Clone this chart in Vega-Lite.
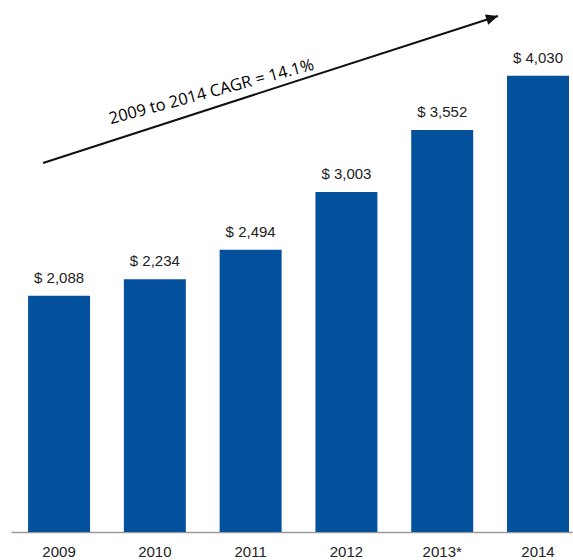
{
  "$schema": "https://vega.github.io/schema/vega-lite/v6.json",
  "width": 562,
  "height": 532,
  "autosize": "none",
  "padding": {"left": 11, "top": 0, "right": 0, "bottom": 28},
  "background": "white",
  "config": {"view": {"stroke": null}},
  "datasets": {
    "revenue": [
      {"year": "2009", "value": 2088},
      {"year": "2010", "value": 2234},
      {"year": "2011", "value": 2494},
      {"year": "2012", "value": 3003},
      {"year": "2013*", "value": 3552},
      {"year": "2014", "value": 4030}
    ],
    "arrow": [
      {"from": "2009", "to": "2014", "y_start": 3260, "y_end": 4559}
    ],
    "note": [
      {"year": "2011", "y": 3887, "text": "2009 to 2014 CAGR = 14.1%"}
    ]
  },
  "layer": [
    {
      "data": {"name": "revenue"},
      "mark": {"type": "bar", "color": "#03519c"},
      "encoding": {
        "x": {
          "field": "year",
          "type": "ordinal",
          "sort": null,
          "scale": {
            "domain": ["2009", "2010", "2011", "2012", "2013*", "2014"],
            "paddingInner": 0.353,
            "paddingOuter": 0.11,
            "align": 0.81
          },
          "axis": {
            "title": null,
            "labelAngle": 0,
            "ticks": false,
            "tickSize": 0,
            "labelPadding": 12,
            "labelFontSize": 15,
            "labelFont": "Liberation Sans",
            "labelColor": "#222222",
            "domainColor": "#9a9a9a",
            "domainWidth": 1.5,
            "grid": false
          }
        },
        "y": {
          "field": "value",
          "type": "quantitative",
          "scale": {"domain": [0, 4700], "nice": false},
          "axis": null
        }
      }
    },
    {
      "data": {"name": "revenue"},
      "transform": [{"calculate": "'$ ' + format(datum.value, ',')", "as": "label"}],
      "mark": {
        "type": "text",
        "dy": -13,
        "baseline": "alphabetic",
        "fontSize": 15,
        "font": "Liberation Sans",
        "color": "#222222"
      },
      "encoding": {
        "x": {"field": "year", "type": "ordinal", "sort": null},
        "y": {"field": "value", "type": "quantitative"},
        "text": {"field": "label"}
      }
    },
    {
      "data": {"name": "arrow"},
      "mark": {"type": "rule", "strokeWidth": 2, "color": "#111111", "xOffset": -16, "x2Offset": -40},
      "encoding": {
        "x": {"field": "from", "type": "ordinal"},
        "x2": {"field": "to"},
        "y": {"field": "y_start", "type": "quantitative"},
        "y2": {"field": "y_end"}
      }
    },
    {
      "data": {"name": "arrow"},
      "mark": {
        "type": "point",
        "shape": "M0,0 L-1,-0.45 L-1,0.45 Z",
        "filled": true,
        "color": "#111111",
        "opacity": 1,
        "size": 576,
        "angle": 342,
        "xOffset": -40
      },
      "encoding": {
        "x": {"field": "to", "type": "ordinal"},
        "y": {"field": "y_end", "type": "quantitative"}
      }
    },
    {
      "data": {"name": "note"},
      "mark": {
        "type": "text",
        "angle": 345,
        "xOffset": -39,
        "fontSize": 16.5,
        "font": "Open Sans",
        "fontWeight": 500,
        "color": "#000000",
        "baseline": "middle",
        "align": "center"
      },
      "encoding": {
        "x": {"field": "year", "type": "ordinal"},
        "y": {"field": "y", "type": "quantitative"},
        "text": {"field": "text"}
      }
    }
  ]
}
